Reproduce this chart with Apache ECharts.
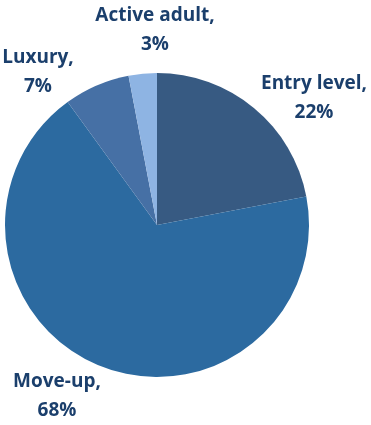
<!DOCTYPE html>
<html><head><meta charset="utf-8">
<script src="https://cdn.jsdelivr.net/npm/echarts@6/dist/echarts.min.js"></script>
<style>html,body{margin:0;padding:0;background:#fff}#c{width:371px;height:425px}</style>
</head><body><div id="c"></div>
<script>
const categories = ['Entry level', 'Move-up', 'Luxury', 'Active adult'];
const values = [22, 68, 7, 3];
const colors = ['#375A82', '#2C6AA0', '#4670A5', '#8EB4E3'];
// label anchor positions (layout only)
const labelPos = [[314, 98], [57, 396], [38, 72], [155, 30]];

const chart = echarts.init(document.getElementById('c'));
chart.setOption({
  animation: false,
  series: [{
    type: 'pie',
    center: [157, 225],
    radius: 152,
    startAngle: 90,
    clockwise: true,
    data: categories.map((n, i) => ({name: n, value: values[i], itemStyle: {color: colors[i]}})),
    itemStyle: {borderColor: '#fff', borderWidth: 0},
    label: {
      show: true,
      position: 'outside',
      formatter: p => p.name + ',\n' + p.value + '%',
      color: '#1B3F6C',
      fontFamily: 'Open Sans',
      fontWeight: 'bold',
      fontSize: 19,
      lineHeight: 29,
      align: 'center',
      overflow: 'none',
      width: 200
    },
    labelLine: {show: false},
    labelLayout: p => ({x: labelPos[p.dataIndex][0], y: labelPos[p.dataIndex][1], align: 'center', verticalAlign: 'middle'})
  }]
});
</script></body></html>
